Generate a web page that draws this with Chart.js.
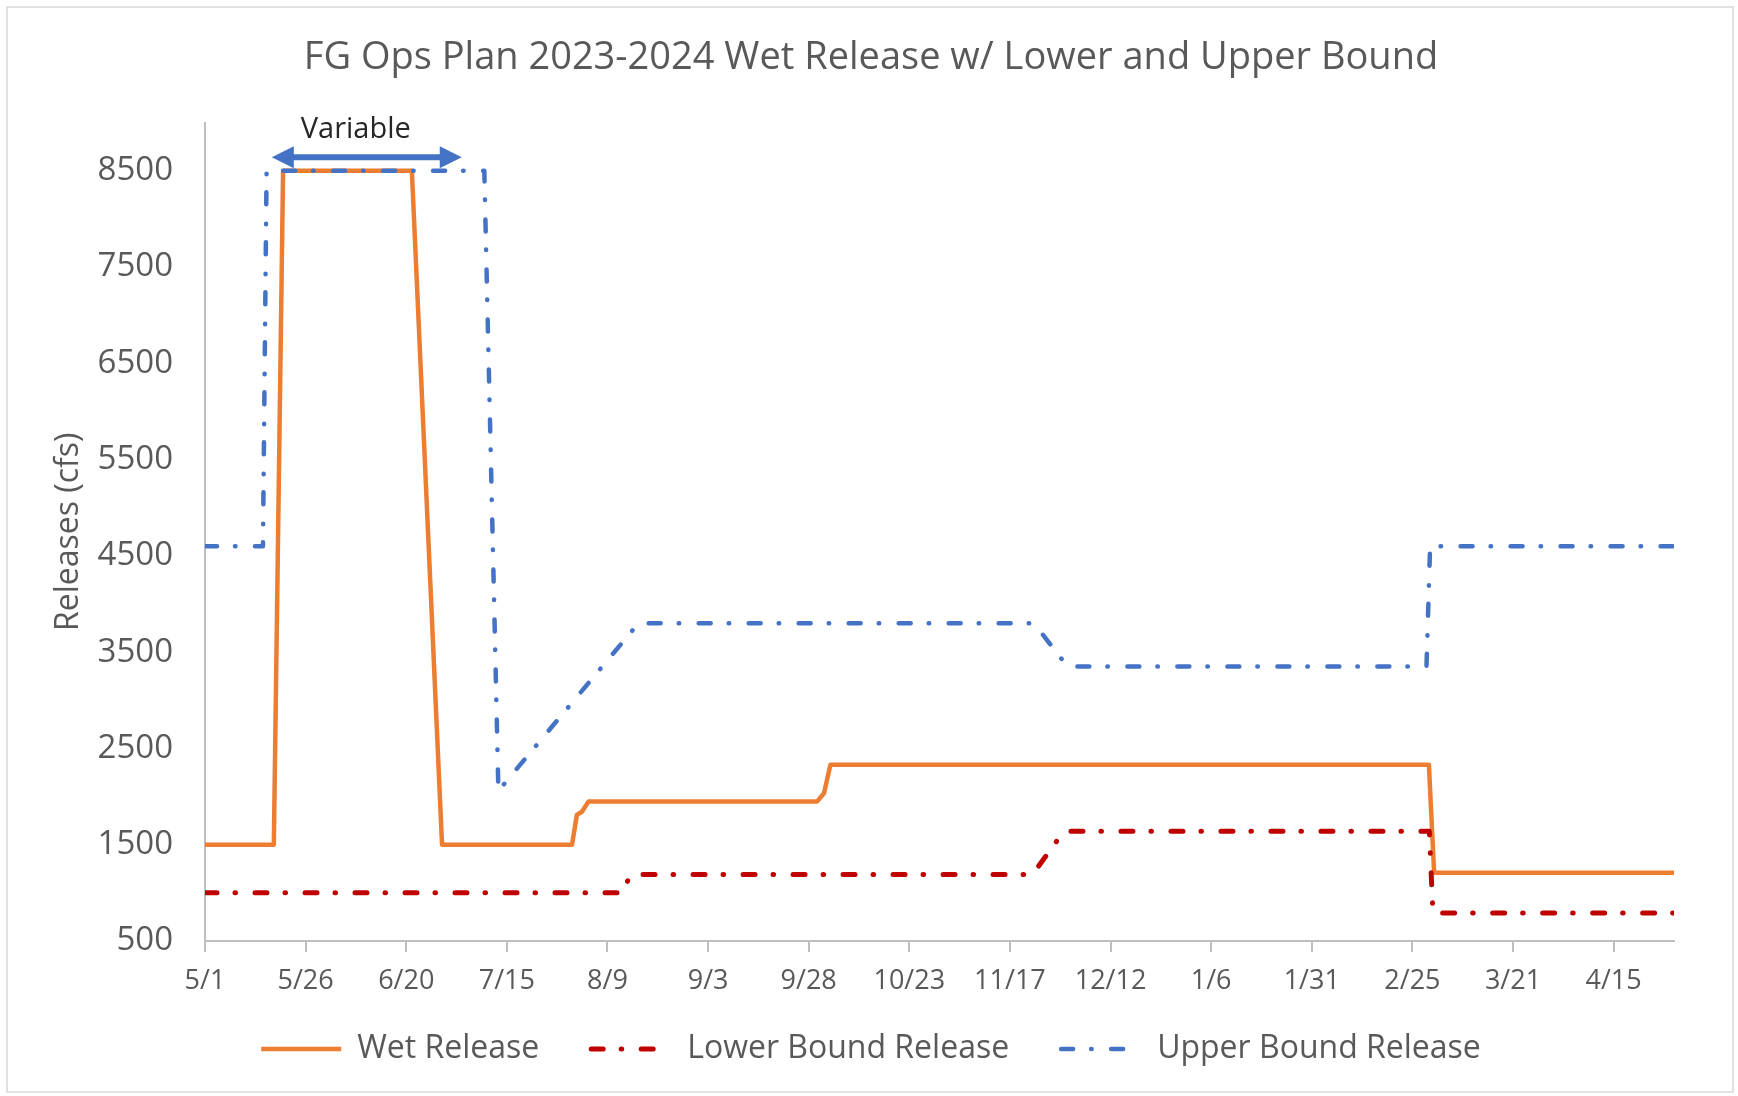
<!DOCTYPE html>
<html>
<head>
<meta charset="utf-8">
<title>FG Ops Plan 2023-2024 Wet Release</title>
<script src="https://cdn.jsdelivr.net/npm/chart.js@4.4.1/dist/chart.umd.min.js"></script>
<style>
  html, body { margin: 0; padding: 0; background: #fff; }
  canvas { display: block; }
</style>
</head>
<body>
<canvas id="releaseChart" width="1738" height="1096"></canvas>
<script>
// x values are days counted from 5/1/2023 (day 365 = 4/30/2024)
const xTickDays = [0, 25, 50, 75, 100, 125, 150, 175, 200, 225, 250, 275, 300, 325, 350];
const xTickLabels = ["5/1", "5/26", "6/20", "7/15", "8/9", "9/3", "9/28", "10/23", "11/17", "12/12", "1/6", "1/31", "2/25", "3/21", "4/15"];
const yTicks = [500, 1500, 2500, 3500, 4500, 5500, 6500, 7500, 8500];

const wetDays  = [0, 17.1, 19.4, 51.4, 58.9, 91.2, 92.4, 93.7, 95.3, 152.1, 153.8, 155.4, 304.1, 305.4, 365];
const wetFlows = [1500, 1500, 8500, 8500, 1500, 1500, 1810, 1845, 1950, 1950, 2035, 2330, 2330, 1210, 1210];

const lowerDays  = [0, 103.7, 105.7, 205.6, 213.4, 304.2, 305.1, 365];
const lowerFlows = [1000, 1000, 1190, 1190, 1640, 1640, 790, 790];

const upperDays  = [0, 14.4, 15.3, 69.4, 72.9, 107.7, 206, 214.3, 303.5, 304.4, 365];
const upperFlows = [4600, 4600, 8500, 8500, 2060, 3800, 3800, 3350, 3350, 4600, 4600];

// "Variable" arrow over the peak release window
const arrowFromDay = 16.6;
const arrowToDay = 63.8;
const arrowFlow = 8640;

const GRAY = "#595959";
Chart.defaults.font.family = "'Open Sans', sans-serif";
Chart.defaults.color = GRAY;

const toPoints = (days, flows) => days.map((d, i) => ({ x: d, y: flows[i] }));

const framePlugin = {
    id: "frame",
    beforeDraw(chart) {
        const ctx = chart.ctx;
        ctx.save();
        ctx.fillStyle = "#ffffff";
        ctx.fillRect(0, 0, chart.width, chart.height);
        ctx.strokeStyle = "#d9d9d9";
        ctx.lineWidth = 1.5;
        ctx.strokeRect(7, 7, chart.width - 12, chart.height - 11);
        ctx.restore();
    }
};

// legend sits closer to the axis than its item spacing would allow
const legendNudge = {
    id: "legendNudge",
    afterLayout(chart) {
        const lg = chart.legend;
        if (!lg) return;
        const h = lg.bottom - lg.top;
        lg.top = chart.chartArea.bottom + 40;
        lg.bottom = lg.top + h;
    }
};

const variablePlugin = {
    id: "variableArrow",
    afterDatasetsDraw(chart) {
        const { ctx, scales } = chart;
        const x1 = scales.x.getPixelForValue(arrowFromDay);
        const x2 = scales.x.getPixelForValue(arrowToDay);
        const y = scales.y.getPixelForValue(arrowFlow);
        const head = 22, half = 11;
        ctx.save();
        ctx.strokeStyle = "#4472C4";
        ctx.fillStyle = "#4472C4";
        ctx.lineWidth = 6;
        ctx.beginPath();
        ctx.moveTo(x1 + head - 2, y);
        ctx.lineTo(x2 - head + 2, y);
        ctx.stroke();
        ctx.beginPath();
        ctx.moveTo(x1, y);
        ctx.lineTo(x1 + head, y - half);
        ctx.lineTo(x1 + head, y + half);
        ctx.closePath();
        ctx.fill();
        ctx.beginPath();
        ctx.moveTo(x2, y);
        ctx.lineTo(x2 - head, y - half);
        ctx.lineTo(x2 - head, y + half);
        ctx.closePath();
        ctx.fill();
        ctx.fillStyle = "#262626";
        ctx.font = "29px 'Open Sans'";
        ctx.textAlign = "center";
        ctx.textBaseline = "middle";
        ctx.fillText("Variable", (x1 + x2) / 2 - 11, y - 28);
        ctx.restore();
    }
};

const lineStyle = {
    pointRadius: 0,
    pointHoverRadius: 0,
    tension: 0,
    fill: false,
    borderJoinStyle: "round"
};

// legend samples take the dataset's own line dash
function legendLabels(chart) {
    return Chart.defaults.plugins.legend.labels.generateLabels(chart).map((item) => {
        const ds = chart.data.datasets[item.datasetIndex];
        item.strokeStyle = ds.borderColor;
        item.lineWidth = ds.borderWidth;
        item.lineDash = ds.borderDash || [];
        item.lineCap = ds.borderCapStyle || "butt";
        return item;
    });
}

new Chart(document.getElementById("releaseChart"), {
    type: "line",
    data: {
        datasets: [
            {
                ...lineStyle,
                label: "Wet Release",
                data: toPoints(wetDays, wetFlows),
                borderColor: "#ED7D31",
                backgroundColor: "#ED7D31",
                borderWidth: 4.5,
                order: 3
            },
            {
                ...lineStyle,
                label: "Lower Bound Release",
                data: toPoints(lowerDays, lowerFlows),
                borderColor: "#C00000",
                backgroundColor: "#C00000",
                borderWidth: 5,
                borderDash: [12, 18, 0.5, 19.5],
                borderCapStyle: "round",
                order: 2
            },
            {
                ...lineStyle,
                label: "Upper Bound Release",
                data: toPoints(upperDays, upperFlows),
                borderColor: "#4472C4",
                backgroundColor: "#4472C4",
                borderWidth: 4.5,
                borderDash: [12, 18, 0.5, 19.5],
                borderCapStyle: "round",
                order: 1
            }
        ]
    },
    options: {
        responsive: false,
        devicePixelRatio: 1,
        animation: false,
        layout: { padding: { top: 0, left: 68, right: 64, bottom: 9 } },
        plugins: {
            title: {
                display: true,
                text: "FG Ops Plan 2023-2024 Wet Release w/ Lower and Upper Bound",
                color: GRAY,
                font: { size: 38, weight: "normal" },
                padding: { top: 35, bottom: 42 }
            },
            legend: {
                position: "bottom",
                maxHeight: 90,
                labels: {
                    usePointStyle: true,
                    pointStyle: "line",
                    pointStyleWidth: 80,
                    padding: 52,
                    color: GRAY,
                    font: { size: 32 },
                    generateLabels: legendLabels,
                    sort: (a, b) => a.datasetIndex - b.datasetIndex
                }
            },
            tooltip: { enabled: false }
        },
        scales: {
            x: {
                type: "linear",
                min: 0,
                max: 365,
                afterBuildTicks: (axis) => { axis.ticks = xTickDays.map((v) => ({ value: v })); },
                afterFit: (axis) => { axis.height = 56; },
                ticks: {
                    autoSkip: false,
                    maxRotation: 0,
                    padding: 13,
                    color: GRAY,
                    font: { size: 27 },
                    callback: (value, index) => xTickLabels[index]
                },
                grid: {
                    display: true,
                    drawOnChartArea: false,
                    drawTicks: true,
                    tickLength: 11,
                    color: "#bfbfbf",
                    lineWidth: 2
                },
                border: { display: true, color: "#bfbfbf", width: 2 }
            },
            y: {
                type: "linear",
                min: 500,
                max: 9000,
                afterBuildTicks: (axis) => { axis.ticks = yTicks.map((v) => ({ value: v })); },
                afterFit: (axis) => { axis.width = 137; },
                ticks: {
                    padding: 32,
                    color: GRAY,
                    font: { size: 33 },
                    callback: (value) => String(value)
                },
                grid: { display: false, drawTicks: false },
                border: { display: true, color: "#bfbfbf", width: 2 },
                title: {
                    display: true,
                    text: "Releases (cfs)",
                    color: GRAY,
                    font: { size: 32 },
                    padding: { top: -18, bottom: 0 }
                }
            }
        }
    },
    plugins: [framePlugin, legendNudge, variablePlugin]
});
</script>
</body>
</html>
